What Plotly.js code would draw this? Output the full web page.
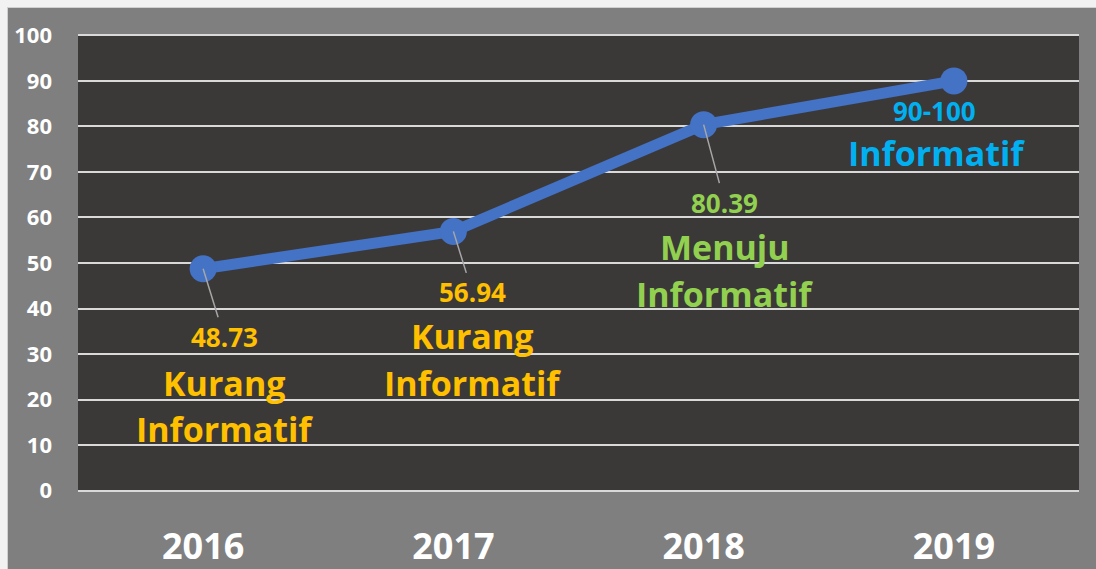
<!DOCTYPE html>
<html>
<head>
<meta charset="utf-8">
<script src="https://cdn.plot.ly/plotly-3.0.1.min.js"></script>
<style>
  html, body { margin: 0; padding: 0; background: #f2f2f2; width: 1096px; height: 569px; overflow: hidden; }
  #chart { position: absolute; left: 7px; top: 7px; width: 1089px; height: 562px; border-left: 1px solid #d0d0d0; border-top: 1px solid #d0d0d0; box-sizing: border-box; }
</style>
</head>
<body>
<div id="chart"></div>
<script>
const years = ['2016', '2017', '2018', '2019'];
const scores = [48.73, 56.94, 80.39, 90];
const valueLabels = ['48.73', '56.94', '80.39', '90-100'];
const categoryLine1 = ['Kurang', 'Kurang', 'Menuju', ''];
const categoryLine2 = ['Informatif', 'Informatif', 'Informatif', 'Informatif'];
const labelColors = ['#FFC000', '#FFC000', '#92D050', '#00B0F0'];
const yTicks = [0, 10, 20, 30, 40, 50, 60, 70, 80, 90, 100];

const FONT = 'Open Sans, Noto Sans, sans-serif';

// label placement offsets (pixels) relative to each point
const valueOffset = [[21, 68], [19, 61], [21, 78], [-19, 30]];
const line1Offset = [[21, -114], [19, -105], [21, -122], [0, 0]];
const line2Offset = [[21, -160], [19, -152], [21, -169], [-17, -72]];

const annotations = [];
years.forEach((yr, i) => {
  const hasLeader = i < 3;
  annotations.push({
    x: i, y: scores[i], xref: 'x', yref: 'y',
    text: valueLabels[i],
    font: { family: FONT, size: 26, color: labelColors[i] },
    showarrow: hasLeader,
    ax: valueOffset[i][0], ay: valueOffset[i][1],
    arrowhead: 0, arrowwidth: 1.5, arrowcolor: '#a6a6a6', standoff: 0,
    xshift: hasLeader ? 0 : valueOffset[i][0],
    yshift: hasLeader ? 0 : -valueOffset[i][1],
    xanchor: 'center', yanchor: 'middle'
  });
  if (categoryLine1[i]) {
    annotations.push({
      x: i, y: scores[i], xref: 'x', yref: 'y', showarrow: false,
      text: categoryLine1[i],
      font: { family: FONT, size: 34, color: labelColors[i] },
      xshift: line1Offset[i][0], yshift: line1Offset[i][1],
      xanchor: 'center', yanchor: 'middle'
    });
  }
  annotations.push({
    x: i, y: scores[i], xref: 'x', yref: 'y', showarrow: false,
    text: categoryLine2[i],
    font: { family: FONT, size: 34, color: labelColors[i] },
    xshift: line2Offset[i][0], yshift: line2Offset[i][1],
    xanchor: 'center', yanchor: 'middle'
  });
});

const trace = {
  type: 'scatter', mode: 'lines+markers',
  x: years, y: scores,
  line: { color: '#4472C4', width: 11 },
  marker: { color: '#4472C4', size: 27 },
  hoverinfo: 'skip'
};

const layout = {
  width: 1089, height: 562,
  margin: { l: 70, r: 18, t: 26, b: 78 },
  paper_bgcolor: '#7f7f7f',
  plot_bgcolor: '#3b3838',
  showlegend: false,
  font: { family: FONT, color: '#ffffff', weight: 700 },
  xaxis: {
    type: 'category', range: [-0.5, 3.5],
    showgrid: false, zeroline: false, showline: false,
    tickfont: { family: FONT, size: 36, color: '#ffffff', weight: 700 },
    ticks: '', ticklabelstandoff: 30
  },
  yaxis: {
    range: [-0.3, 100.3], tickvals: yTicks, ticktext: yTicks.map(String),
    showgrid: true, gridcolor: '#d9d9d9', gridwidth: 2,
    zeroline: false, showline: false,
    tickfont: { family: FONT, size: 22, color: '#ffffff', weight: 700 },
    ticks: '', ticklabelstandoff: 25
  },
  annotations: annotations
};

Plotly.newPlot('chart', [trace], layout, { displayModeBar: false, staticPlot: true });
</script>
</body>
</html>
